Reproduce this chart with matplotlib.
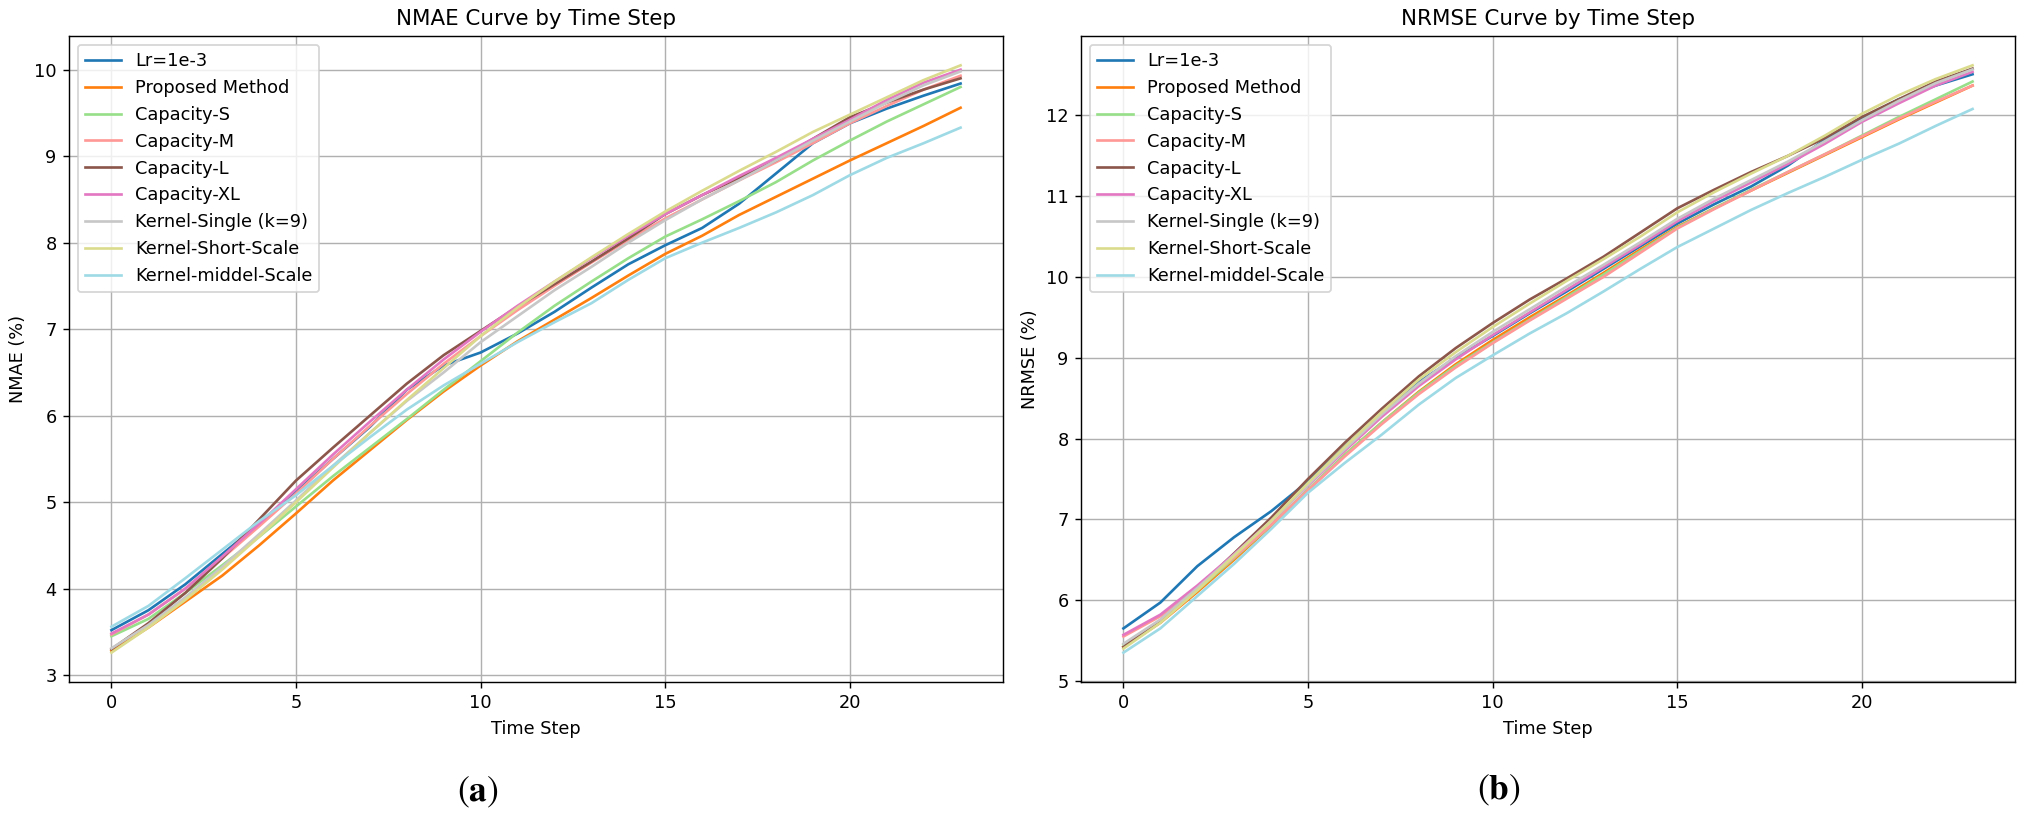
import matplotlib.pyplot as plt
import numpy as np

# time steps 0..23
steps = np.arange(24)

labels = ['Lr=1e-3', 'Proposed Method', 'Capacity-S', 'Capacity-M', 'Capacity-L',
          'Capacity-XL', 'Kernel-Single (k=9)', 'Kernel-Short-Scale', 'Kernel-middel-Scale']
colors = ['#1f77b4', '#ff7f0e', '#98df8a', '#ff9896', '#8c564b',
          '#e377c2', '#c7c7c7', '#dbdb8d', '#9edae5']

# NMAE (%) per time step
nmae_lr = [3.52, 3.75, 4.05, 4.40, 4.75, 5.12, 5.50, 5.87, 6.30, 6.58, 6.73, 6.95,
           7.20, 7.48, 7.75, 7.97, 8.17, 8.45, 8.80, 9.15, 9.38, 9.55, 9.70, 9.84]
nmae_prop = [3.28, 3.55, 3.85, 4.15, 4.50, 4.87, 5.25, 5.60, 5.95, 6.28, 6.58, 6.86,
             7.11, 7.36, 7.62, 7.87, 8.08, 8.32, 8.53, 8.74, 8.95, 9.15, 9.35, 9.56]
nmae_s = [3.45, 3.65, 3.95, 4.27, 4.60, 4.95, 5.30, 5.63, 5.96, 6.30, 6.63, 6.96,
          7.27, 7.55, 7.82, 8.07, 8.27, 8.48, 8.70, 8.95, 9.18, 9.40, 9.60, 9.80]
nmae_m = [3.47, 3.70, 4.00, 4.35, 4.72, 5.10, 5.50, 5.88, 6.25, 6.60, 6.92, 7.22,
          7.50, 7.77, 8.03, 8.28, 8.50, 8.72, 8.93, 9.15, 9.38, 9.58, 9.77, 9.93]
nmae_l = [3.30, 3.60, 3.95, 4.35, 4.80, 5.25, 5.63, 6.00, 6.37, 6.70, 6.98, 7.26,
          7.52, 7.78, 8.05, 8.33, 8.55, 8.75, 8.95, 9.20, 9.45, 9.62, 9.77, 9.90]
nmae_xl = [3.48, 3.70, 4.00, 4.37, 4.75, 5.15, 5.55, 5.93, 6.30, 6.65, 6.97, 7.27,
           7.55, 7.82, 8.08, 8.33, 8.55, 8.77, 8.98, 9.20, 9.42, 9.65, 9.85, 10.00]
nmae_single = [3.31, 3.58, 3.90, 4.25, 4.63, 5.02, 5.42, 5.80, 6.17, 6.50, 6.85, 7.15,
               7.45, 7.72, 8.00, 8.26, 8.50, 8.72, 8.95, 9.18, 9.40, 9.62, 9.82, 9.98]
nmae_short = [3.26, 3.55, 3.87, 4.22, 4.60, 5.00, 5.40, 5.80, 6.18, 6.55, 6.92, 7.25,
              7.55, 7.83, 8.10, 8.36, 8.60, 8.83, 9.05, 9.28, 9.48, 9.68, 9.88, 10.05]
nmae_mid = [3.56, 3.80, 4.12, 4.45, 4.78, 5.08, 5.42, 5.75, 6.07, 6.35, 6.60, 6.85,
            7.08, 7.30, 7.57, 7.82, 8.00, 8.17, 8.35, 8.55, 8.78, 8.98, 9.15, 9.33]

# NRMSE (%) per time step
nrmse_lr = [5.65, 5.97, 6.42, 6.78, 7.10, 7.47, 7.90, 8.32, 8.70, 9.00, 9.27, 9.55,
            9.82, 10.10, 10.38, 10.66, 10.90, 11.12, 11.38, 11.70, 11.97, 12.20, 12.37, 12.51]
nrmse_prop = [5.42, 5.72, 6.10, 6.50, 6.92, 7.36, 7.80, 8.20, 8.58, 8.92, 9.22, 9.50,
              9.77, 10.05, 10.34, 10.62, 10.85, 11.07, 11.29, 11.51, 11.73, 11.95, 12.16, 12.37]
nrmse_s = [5.45, 5.74, 6.12, 6.52, 6.93, 7.37, 7.80, 8.20, 8.57, 8.90, 9.19, 9.47,
           9.75, 10.03, 10.32, 10.61, 10.85, 11.08, 11.30, 11.52, 11.75, 11.98, 12.20, 12.42]
nrmse_m = [5.55, 5.80, 6.15, 6.53, 6.93, 7.36, 7.78, 8.18, 8.55, 8.88, 9.18, 9.46,
           9.73, 10.00, 10.30, 10.60, 10.84, 11.07, 11.30, 11.52, 11.74, 11.96, 12.17, 12.37]
nrmse_l = [5.42, 5.75, 6.15, 6.58, 7.02, 7.50, 7.95, 8.37, 8.77, 9.12, 9.43, 9.72,
           9.98, 10.25, 10.55, 10.85, 11.08, 11.30, 11.50, 11.72, 11.98, 12.20, 12.42, 12.58]
nrmse_xl = [5.57, 5.82, 6.18, 6.57, 6.98, 7.42, 7.85, 8.27, 8.65, 8.98, 9.28, 9.56,
            9.84, 10.12, 10.40, 10.69, 10.94, 11.17, 11.40, 11.65, 11.92, 12.15, 12.37, 12.54]
nrmse_single = [5.46, 5.76, 6.15, 6.56, 6.98, 7.43, 7.87, 8.30, 8.68, 9.02, 9.32, 9.60,
                9.88, 10.15, 10.43, 10.72, 10.97, 11.20, 11.43, 11.68, 11.94, 12.18, 12.40, 12.57]
nrmse_short = [5.40, 5.72, 6.12, 6.55, 6.98, 7.45, 7.90, 8.33, 8.73, 9.07, 9.38, 9.67,
               9.95, 10.22, 10.50, 10.80, 11.05, 11.28, 11.50, 11.75, 12.02, 12.25, 12.45, 12.62]
nrmse_mid = [5.35, 5.65, 6.05, 6.45, 6.88, 7.33, 7.70, 8.05, 8.42, 8.75, 9.03, 9.30,
             9.55, 9.82, 10.10, 10.37, 10.60, 10.83, 11.04, 11.24, 11.45, 11.65, 11.87, 12.08]

nmae_all = [nmae_lr, nmae_prop, nmae_s, nmae_m, nmae_l, nmae_xl, nmae_single, nmae_short, nmae_mid]
nrmse_all = [nrmse_lr, nrmse_prop, nrmse_s, nrmse_m, nrmse_l, nrmse_xl, nrmse_single, nrmse_short, nrmse_mid]

plt.rcParams['mathtext.fontset'] = 'stix'

fig = plt.figure(figsize=(2026/128, 818/128), dpi=128)
ax1 = fig.add_axes([0.03406, 0.16626, 0.46101, 0.78973])
ax2 = fig.add_axes([0.53356, 0.16626, 0.46101, 0.78973])

for ax, series, ylab, title in [(ax1, nmae_all, 'NMAE (%)', 'NMAE Curve by Time Step'),
                                (ax2, nrmse_all, 'NRMSE (%)', 'NRMSE Curve by Time Step')]:
    for vals, lab, col in zip(series, labels, colors):
        ax.plot(steps, vals, color=col, lw=1.5, label=lab)
    ax.set_title(title)
    ax.set_xlabel('Time Step')
    ax.set_ylabel(ylab)
    ax.grid(True)
    ax.legend(loc='upper left')

# panel captions
fig.text(478/2026, 1 - 792/818, r'$(\mathbf{a})$', ha='center', va='center', fontsize=20)
fig.text(1499/2026, 1 - 790/818, r'$(\mathbf{b})$', ha='center', va='center', fontsize=20)

fig.savefig('out.png', dpi=128)
